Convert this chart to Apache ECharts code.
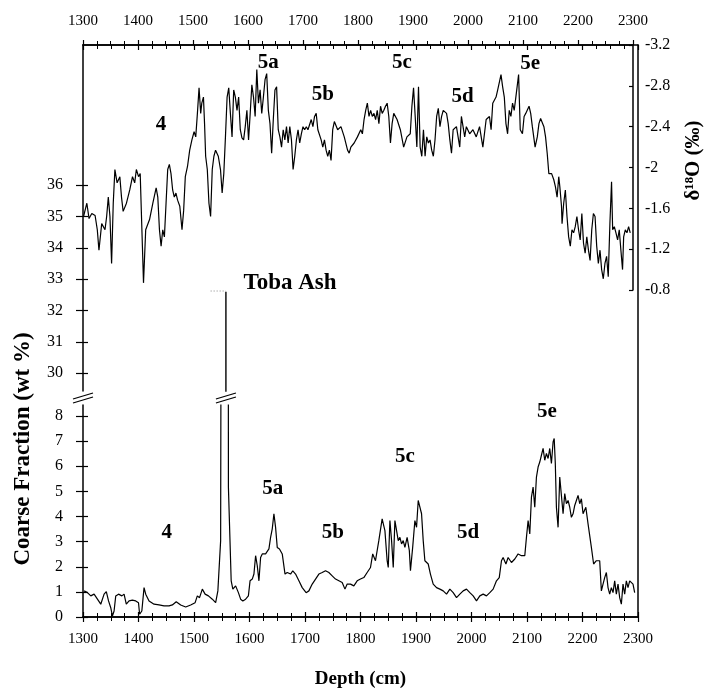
<!DOCTYPE html>
<html><head><meta charset="utf-8">
<script src="https://cdn.jsdelivr.net/npm/echarts@6/dist/echarts.min.js"></script>
<style>html,body{margin:0;padding:0;background:#fff}#c{width:712px;height:694px}</style>
</head><body><div id="c"></div>
<script>
// ---------- DATA ----------
const depthRange = [1300, 2300];
const o18TickValues = [-3.2, -2.8, -2.4, -2, -1.6, -1.2, -0.8];
const upperCfTicks = [30, 31, 32, 33, 34, 35, 36];
const lowerCfTicks = [0, 1, 2, 3, 4, 5, 6, 7, 8];

// delta 18O (per mil) vs depth (cm)
const o18 = [
[1301,-1.52],[1307,-1.65],[1311,-1.50],[1316,-1.55],[1322,-1.53],[1326,-1.39],[1329,-1.19],[1334,-1.45],[1340,-1.39],[1343,-1.52],
[1346,-1.71],[1349,-1.52],[1352,-1.06],[1355,-1.65],[1358,-1.98],[1362,-1.85],[1367,-1.91],[1370,-1.71],[1373,-1.57],[1379,-1.65],
[1385,-1.78],[1390,-1.91],[1394,-1.85],[1397,-1.98],[1401,-1.91],[1404,-1.94],[1408,-1.23],[1410,-0.87],[1414,-1.39],[1421,-1.49],
[1427,-1.65],[1433,-1.80],[1436,-1.71],[1439,-1.39],[1442,-1.23],[1445,-1.39],[1448,-1.32],[1451,-1.65],[1454,-1.98],[1457,-2.03],
[1460,-1.94],[1463,-1.78],[1466,-1.71],[1469,-1.75],[1472,-1.68],[1476,-1.62],[1480,-1.39],[1483,-1.58],[1486,-1.91],[1490,-2.01],
[1494,-2.17],[1498,-2.27],[1502,-2.35],[1505,-2.30],[1508,-2.53],[1511,-2.78],[1514,-2.53],[1516,-2.63],[1519,-2.69],[1521,-2.43],
[1523,-2.11],[1526,-1.98],[1529,-1.65],[1532,-1.52],[1535,-1.98],[1538,-2.11],[1541,-2.17],[1546,-2.11],[1550,-1.98],[1553,-1.75],
[1556,-1.94],[1559,-2.30],[1562,-2.69],[1565,-2.78],[1568,-2.53],[1571,-2.30],[1574,-2.76],[1577,-2.69],[1580,-2.56],[1583,-2.69],
[1586,-2.37],[1589,-2.29],[1592,-2.27],[1595,-2.40],[1598,-2.56],[1601,-2.27],[1604,-2.53],[1607,-2.81],[1610,-2.69],[1613,-2.50],
[1616,-2.96],[1619,-2.63],[1622,-2.76],[1625,-2.53],[1628,-2.69],[1631,-2.86],[1634,-2.92],[1637,-2.56],[1640,-2.43],[1643,-2.14],
[1646,-2.47],[1649,-2.76],[1652,-2.79],[1655,-2.37],[1658,-2.30],[1661,-2.20],[1664,-2.37],[1667,-2.27],[1670,-2.40],[1673,-2.24],
[1676,-2.40],[1679,-2.27],[1682,-1.98],[1685,-2.11],[1688,-2.27],[1691,-2.37],[1694,-2.24],[1697,-2.33],[1700,-2.40],[1703,-2.37],
[1706,-2.40],[1709,-2.37],[1715,-2.47],[1718,-2.40],[1721,-2.50],[1724,-2.53],[1727,-2.37],[1733,-2.27],[1736,-2.20],[1739,-2.27],
[1742,-2.17],[1745,-2.11],[1748,-2.17],[1751,-2.07],[1754,-2.37],[1757,-2.45],[1763,-2.37],[1769,-2.40],[1775,-2.30],[1781,-2.17],
[1784,-2.14],[1787,-2.20],[1793,-2.24],[1799,-2.30],[1805,-2.37],[1808,-2.33],[1811,-2.47],[1814,-2.56],[1817,-2.63],[1820,-2.50],
[1823,-2.56],[1826,-2.50],[1829,-2.53],[1832,-2.47],[1835,-2.56],[1838,-2.43],[1841,-2.60],[1844,-2.53],[1847,-2.56],[1850,-2.60],
[1853,-2.63],[1856,-2.50],[1859,-2.24],[1862,-2.43],[1865,-2.53],[1871,-2.47],[1877,-2.37],[1883,-2.20],[1889,-2.30],[1895,-2.33],
[1898,-2.60],[1901,-2.78],[1904,-2.50],[1907,-2.20],[1910,-2.79],[1913,-2.20],[1916,-2.11],[1919,-2.37],[1922,-2.11],[1925,-2.30],
[1928,-2.24],[1931,-2.27],[1934,-2.17],[1937,-2.11],[1940,-2.27],[1943,-2.50],[1946,-2.58],[1949,-2.40],[1952,-2.50],[1955,-2.56],
[1961,-2.53],[1964,-2.43],[1967,-2.27],[1970,-2.14],[1973,-2.37],[1979,-2.40],[1982,-2.30],[1985,-2.20],[1988,-2.50],[1991,-2.40],
[1994,-2.30],[1997,-2.40],[2003,-2.33],[2009,-2.37],[2015,-2.30],[2021,-2.40],[2027,-2.20],[2033,-2.47],[2039,-2.50],[2042,-2.37],
[2045,-2.63],[2051,-2.69],[2054,-2.76],[2060,-2.91],[2063,-2.79],[2066,-2.69],[2069,-2.43],[2072,-2.33],[2075,-2.56],[2078,-2.50],
[2081,-2.63],[2084,-2.56],[2087,-2.69],[2092,-2.91],[2095,-2.37],[2099,-2.33],[2102,-2.50],[2105,-2.53],[2111,-2.60],[2114,-2.53],
[2117,-2.40],[2122,-2.20],[2126,-2.30],[2129,-2.43],[2132,-2.48],[2135,-2.47],[2138,-2.40],[2141,-2.30],[2144,-2.14],[2147,-1.94],
[2152,-1.94],[2156,-1.88],[2159,-1.81],[2162,-1.71],[2165,-1.91],[2167,-1.81],[2170,-1.62],[2171,-1.45],[2174,-1.65],[2177,-1.78],
[2180,-1.52],[2183,-1.32],[2186,-1.23],[2189,-1.39],[2192,-1.36],[2195,-1.42],[2198,-1.52],[2201,-1.39],[2204,-1.29],[2207,-1.55],
[2210,-1.26],[2213,-1.16],[2216,-1.32],[2219,-1.19],[2222,-1.09],[2225,-1.39],[2228,-1.55],[2231,-1.52],[2234,-1.23],[2237,-1.06],
[2240,-1.19],[2243,-1.00],[2246,-0.91],[2249,-1.06],[2252,-1.13],[2255,-0.93],[2258,-1.45],[2261,-1.86],[2263,-1.39],[2266,-1.42],
[2269,-1.36],[2272,-1.29],[2275,-1.39],[2278,-1.19],[2281,-1.00],[2283,-1.32],[2286,-1.39],[2289,-1.36],[2292,-1.42],[2295,-1.36]
];

// Coarse fraction (wt %) vs depth (cm); the Toba ash values run off the lower panel
const coarse = [
[1302,1.04],[1308,0.97],[1314,0.84],[1320,0.91],[1326,0.71],[1332,0.51],[1338,0.91],[1342,1.01],[1346,0.64],[1350,0.37],
[1353,0.04],[1356,0.24],[1359,0.84],[1364,0.91],[1370,0.84],[1374,0.91],[1378,0.51],[1383,0.64],[1389,0.67],[1395,0.64],
[1400,0.57],[1402,0.11],[1406,0.24],[1410,1.17],[1413,0.91],[1419,0.64],[1428,0.51],[1437,0.48],[1446,0.44],[1455,0.44],
[1461,0.48],[1468,0.61],[1476,0.48],[1485,0.40],[1494,0.48],[1502,0.57],[1506,0.84],[1510,0.77],[1515,1.11],[1520,0.91],
[1526,0.84],[1533,0.71],[1539,0.57],[1543,1.04],[1548,3.04],[1551,40],[1561,40],[1562,5.17],[1567,1.44],[1570,1.11],
[1575,1.24],[1580,0.97],[1584,0.71],[1588,0.64],[1593,0.71],[1598,0.84],[1601,1.44],[1605,1.51],[1608,1.71],[1611,2.44],
[1614,2.04],[1617,1.44],[1620,2.37],[1623,2.51],[1629,2.51],[1635,2.71],[1638,3.17],[1641,3.51],[1644,4.11],[1647,3.57],
[1650,2.77],[1654,2.71],[1659,2.51],[1664,1.71],[1668,1.77],[1674,1.71],[1678,1.84],[1683,1.71],[1689,1.44],[1695,1.17],
[1702,0.97],[1707,1.04],[1713,1.31],[1719,1.51],[1725,1.71],[1731,1.77],[1737,1.84],[1743,1.77],[1749,1.64],[1755,1.51],
[1761,1.44],[1767,1.37],[1772,1.11],[1776,1.31],[1782,1.31],[1788,1.24],[1794,1.44],[1800,1.51],[1806,1.57],[1812,1.77],
[1818,1.97],[1822,2.51],[1827,2.24],[1833,3.04],[1839,3.91],[1844,3.44],[1848,2.24],[1850,1.97],[1853,3.84],[1856,3.04],
[1859,1.97],[1862,3.84],[1865,3.91],[1868,3.04],[1871,3.17],[1874,2.91],[1877,3.04],[1880,2.77],[1884,3.17],[1888,2.64],
[1890,1.84],[1894,2.77],[1898,3.84],[1901,3.57],[1904,4.64],[1907,4.71],[1910,4.11],[1913,3.04],[1916,2.24],[1922,2.11],
[1926,1.71],[1931,1.31],[1937,1.17],[1943,1.11],[1949,1.04],[1955,0.91],[1961,1.11],[1967,0.97],[1973,0.77],[1979,0.91],
[1985,1.04],[1991,1.11],[1997,0.97],[2003,0.84],[2009,0.64],[2015,0.84],[2021,0.91],[2027,0.84],[2033,0.97],[2039,1.11],
[2045,1.44],[2050,1.57],[2054,2.24],[2057,2.37],[2062,2.11],[2066,2.37],[2072,2.17],[2078,2.31],[2084,2.51],[2090,2.44],
[2096,2.44],[2099,3.17],[2102,3.84],[2105,3.31],[2108,4.77],[2111,5.17],[2114,4.37],[2117,5.57],[2120,5.97],[2123,6.17],
[2126,6.44],[2129,6.71],[2132,6.24],[2135,6.51],[2138,6.31],[2141,6.71],[2144,6.11],[2147,6.97],[2149,7.11],[2151,6.11],
[2153,4.37],[2156,3.57],[2159,5.57],[2162,5.64],[2165,4.11],[2168,4.91],[2171,4.51],[2174,4.64],[2177,4.37],[2180,3.97],
[2183,4.11],[2186,4.44],[2189,4.64],[2192,4.84],[2195,4.51],[2198,4.71],[2201,4.11],[2206,4.37],[2210,3.71],[2216,2.77],
[2220,2.11],[2225,2.24],[2231,2.24],[2234,1.04],[2237,1.31],[2240,1.57],[2243,1.77],[2246,1.17],[2249,0.91],[2252,1.17],
[2255,0.97],[2258,1.44],[2261,0.91],[2264,1.31],[2267,0.77],[2270,0.51],[2273,1.31],[2276,0.91],[2279,1.44],[2282,1.17],
[2285,1.44],[2291,1.31],[2294,0.97]
];

// Toba ash peak in the upper (broken) part of the coarse fraction axis
const tobaUpper = [[1557.5, 20], [1557.5, 32.6]];
const tobaTop = [[1530, 32.62], [1557.5, 32.62]];

// stage labels
const stageNames = ['4', '5a', '5b', '5c', '5d', '5e'];
const stageO18Depth = [1442, 1637, 1736, 1880, 1990, 2113];
const stageO18Value = [-2.42, -3.03, -2.71, -3.03, -2.69, -3.02];
const stageCfDepth = [1451, 1642, 1750, 1880, 1994, 2136];
const stageCfValue = [3.38, 5.13, 3.38, 6.37, 3.38, 8.16];
const tobaLabel = {name: 'Toba Ash', depth: 1673, value: 32.87};

// ---------- CHART ----------
const FONT = '"Liberation Serif", "Times New Roman", serif';
const BLACK = '#000';
const chart = echarts.init(document.getElementById('c'), null, {renderer: 'canvas'});

const L = 83, R = 74;
const grids = [
  {left: L, right: R, top: 45, height: 245},   // 0 delta18O
  {left: L, right: R, top: 45, height: 346},   // 1 upper coarse
  {left: L, right: R, top: 405, height: 212},  // 2 lower coarse
  {left: L, right: R, top: 405, height: 212},  // 3 dummy lower (inside ticks)
  {left: L, right: R, top: 45, height: 346},   // 4 dummy upper (inside ticks)
  {left: L, right: R, top: 45, height: 572}    // 5 full frame right line
];

const lineW = {color: BLACK, width: 1.5};
const plain = v => String(v);
function xAx(grid, opts) {
  return Object.assign({
    gridIndex: grid, type: 'value', min: depthRange[0], max: depthRange[1], interval: 100,
    axisLine: {show: true, lineStyle: lineW},
    axisTick: {show: true, length: 5, lineStyle: {color: BLACK, width: 1.2}},
    minorTick: {show: true, splitNumber: 4, length: 4, lineStyle: {color: BLACK, width: 1}},
    axisLabel: {show: false},
    splitLine: {show: false}
  }, opts);
}
const labelStyle = {color: BLACK, fontFamily: FONT, fontSize: 15, formatter: plain};
const stageLabel = {show: true, position: 'inside', formatter: '{b}', color: BLACK, opacity: 1,
                    fontFamily: FONT, fontSize: 21, fontWeight: 'bold'};
const hiddenSym = {color: 'rgba(0,0,0,0)', opacity: 1};

const option = {
  animation: false,
  backgroundColor: '#fff',
  grid: grids,
  xAxis: [
    xAx(0, {position: 'top', axisLabel: Object.assign({show: true, margin: 16}, labelStyle)}),
    xAx(1, {position: 'top', axisTick: {show: true, inside: true, length: 5, lineStyle: {color: BLACK, width: 1.2}},
            minorTick: {show: true, splitNumber: 4, length: 4, lineStyle: {color: BLACK, width: 1}}}),
    xAx(2, {position: 'bottom', axisLabel: Object.assign({show: true, margin: 15}, labelStyle),
            name: 'Depth (cm)', nameLocation: 'middle', nameGap: 53,
            nameTextStyle: {color: BLACK, fontFamily: FONT, fontSize: 19, fontWeight: 'bold'}}),
    xAx(3, {position: 'bottom', axisTick: {show: true, inside: true, length: 5, lineStyle: {color: BLACK, width: 1.2}},
            minorTick: {show: true, splitNumber: 4, length: 4, lineStyle: {color: BLACK, width: 1}}}),
    xAx(4, {show: false}),
    xAx(5, {show: false})
  ],
  yAxis: [
    {gridIndex: 0, type: 'value', position: 'right', inverse: true, min: -3.2, max: -0.8, interval: 0.4,
     axisLine: {show: true, lineStyle: lineW},
     axisTick: {show: true, inside: true, length: 4, lineStyle: {color: BLACK, width: 1.2}},
     axisLabel: {show: true, margin: 12, fontSize: 16, color: BLACK, fontFamily: FONT},
     splitLine: {show: false},
     name: 'δ¹⁸O (‰)', nameLocation: 'middle', nameGap: 50,
     nameTextStyle: {color: BLACK, fontFamily: FONT, fontSize: 21, fontWeight: 'bold', padding: [0, 0, 0, 14]}},
    {gridIndex: 1, type: 'value', position: 'left', min: 29.43, max: 40.47,
     axisLine: {show: true, lineStyle: lineW},
     axisTick: {show: true, length: 7, customValues: upperCfTicks, lineStyle: {color: BLACK, width: 1.2}},
     axisLabel: {show: true, margin: 20, customValues: upperCfTicks, color: BLACK, fontFamily: FONT, fontSize: 16},
     splitLine: {show: false}},
    {gridIndex: 2, type: 'value', position: 'left', min: 0, max: 8.44,
     axisLine: {show: true, lineStyle: lineW},
     axisTick: {show: true, length: 7, customValues: lowerCfTicks, lineStyle: {color: BLACK, width: 1.2}},
     axisLabel: {show: true, margin: 20, customValues: lowerCfTicks, color: BLACK, fontFamily: FONT, fontSize: 16},
     splitLine: {show: false}},
    {gridIndex: 3, type: 'value', position: 'left', min: 0, max: 8.44,
     axisLine: {show: false},
     axisTick: {show: true, inside: true, length: 5, customValues: lowerCfTicks, lineStyle: {color: BLACK, width: 1.2}},
     axisLabel: {show: false}, splitLine: {show: false}},
    {gridIndex: 4, type: 'value', position: 'left', min: 29.43, max: 40.47,
     axisLine: {show: false},
     axisTick: {show: true, inside: true, length: 5, customValues: upperCfTicks, lineStyle: {color: BLACK, width: 1.2}},
     axisLabel: {show: false}, splitLine: {show: false}},
    {gridIndex: 5, type: 'value', position: 'right', min: 0, max: 1,
     axisLine: {show: true, lineStyle: lineW},
     axisTick: {show: false}, axisLabel: {show: false}, splitLine: {show: false}}
  ],
  series: [
    {type: 'line', xAxisIndex: 0, yAxisIndex: 0, data: o18, showSymbol: false, symbol: 'none',
     lineStyle: {color: BLACK, width: 1.2}, z: 3},
    {type: 'line', xAxisIndex: 2, yAxisIndex: 2, data: coarse, showSymbol: false, symbol: 'none', clip: true,
     lineStyle: {color: BLACK, width: 1.2}, z: 3},
    {type: 'line', xAxisIndex: 1, yAxisIndex: 1, data: tobaUpper, showSymbol: false, symbol: 'none', clip: true,
     lineStyle: {color: BLACK, width: 1.4}, z: 3},
    {type: 'line', xAxisIndex: 1, yAxisIndex: 1, data: tobaTop, showSymbol: false, symbol: 'none',
     lineStyle: {color: '#888', width: 1, type: [1, 2]}, z: 3},
    {type: 'scatter', xAxisIndex: 0, yAxisIndex: 0, symbolSize: 1, itemStyle: hiddenSym,
     data: stageNames.map((n, i) => ({name: n, value: [stageO18Depth[i], stageO18Value[i]]})),
     label: stageLabel, z: 5},
    {type: 'scatter', xAxisIndex: 2, yAxisIndex: 2, symbolSize: 1, itemStyle: hiddenSym,
     data: stageNames.map((n, i) => ({name: n, value: [stageCfDepth[i], stageCfValue[i]]})),
     label: stageLabel, z: 5},
    {type: 'scatter', xAxisIndex: 1, yAxisIndex: 1, symbolSize: 1, itemStyle: hiddenSym,
     data: [{name: tobaLabel.name, value: [tobaLabel.depth, tobaLabel.value]}],
     label: Object.assign({}, stageLabel, {fontSize: 23}), z: 5}
  ]
};
chart.setOption(option);

// axis-break marks and left title, placed from the axes' own scales
const lowTop = chart.convertToPixel({xAxisIndex: 2, yAxisIndex: 2}, [depthRange[0], 8.44]);
const upBot = chart.convertToPixel({xAxisIndex: 1, yAxisIndex: 1}, [depthRange[0], 29.43]);
const tobaX = chart.convertToPixel({xAxisIndex: 2, yAxisIndex: 2}, [tobaUpper[0][0], 0])[0];
const yc = (lowTop[1] + upBot[1]) / 2;
function breakMark(x) {
  return [
    {type: 'line', shape: {x1: x - 10, y1: yc + 1, x2: x + 10, y2: yc - 5}, style: {stroke: BLACK, lineWidth: 1.3}},
    {type: 'line', shape: {x1: x - 10, y1: yc + 5, x2: x + 10, y2: yc - 1}, style: {stroke: BLACK, lineWidth: 1.3}}
  ];
}
chart.setOption({
  graphic: [
    ...breakMark(lowTop[0]),
    ...breakMark(tobaX),
    {type: 'text', x: 23, y: 449, rotation: Math.PI / 2,
     style: {text: 'Coarse Fraction (wt %)', fontFamily: FONT, fontSize: 23, fontWeight: 'bold', fill: BLACK,
             align: 'center', verticalAlign: 'middle'}}
  ]
});
</script>
</body></html>
